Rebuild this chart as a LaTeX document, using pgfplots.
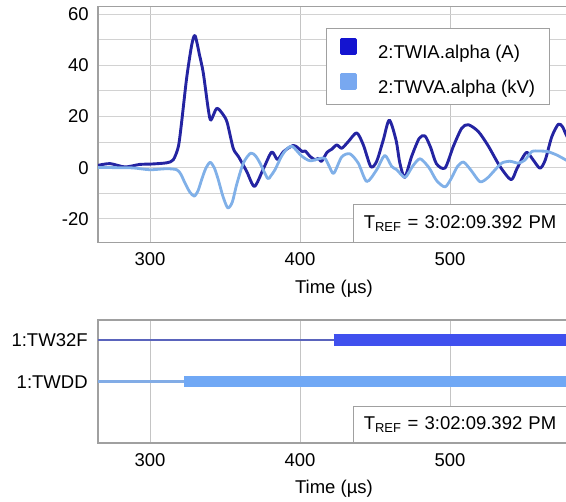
\documentclass[border=0pt]{standalone}
\usepackage{fontspec}
\setmainfont{Liberation Sans}
\usepackage{pgfplots}
\pgfplotsset{compat=1.18}
\definecolor{ia}{HTML}{2424A2}
\definecolor{iaLeg}{HTML}{1414D0}
\definecolor{va}{HTML}{80B0E8}
\definecolor{vaLeg}{HTML}{78A8F0}
\definecolor{tw32}{HTML}{4050EE}
\definecolor{tw32thin}{HTML}{5A64BC}
\definecolor{twdd}{HTML}{70A8F5}
\definecolor{twddthin}{HTML}{82ACE6}
\definecolor{axgray}{HTML}{A0A0A0}
\definecolor{gridgray}{HTML}{D2D2D2}
\definecolor{vgrid}{HTML}{C4C4C4}
\pgfplotsset{
  common/.style={
    scale only axis, width=472bp,
    xmin=265.3, xmax=580,
    axis line style={axgray, line width=1.2bp},
    tick style={draw=none},
    xtick={300,400,500},
    /pgf/number format/assume math mode=true,
    xmajorgrids,
    x grid style={vgrid, line width=1bp},
    y grid style={gridgray, line width=1bp},
    minor y grid style={gridgray, line width=1bp},
    xlabel={Time (µs)},
    xticklabel style={yshift=-4bp},
    yticklabel style={xshift=-3bp},
    xlabel style={yshift=-1bp},
  }
}
\begin{document}
\fontsize{18.5bp}{22bp}\selectfont
\begin{tikzpicture}
\begin{axis}[common,
  at={(98bp,259.3bp)}, anchor=south west, height=236bp,
  ymin=-29.3, ymax=62.9,
  ytick={-20,0,20,40,60},
  minor ytick={-10,10,30,50},
  ymajorgrids, yminorgrids,
  legend cell align=left,
  legend style={at={(rel axis cs:0.4824,0.9085)}, anchor=north west,
    draw=axgray, line width=1bp, fill=white,
    inner xsep=14bp, inner ysep=9bp, row sep=12bp,
    nodes={inner sep=0bp},
    /tikz/every odd column/.style={column sep=21bp}},
]
\addplot[ia, line width=2.9bp, smooth, tension=0.45, line join=round,
  legend image code/.code={\fill[iaLeg] (0bp,-0.5bp) rectangle (14bp,13.5bp);}]
  coordinates {
  (265.3,0.9) (273.3,1.6) (283.3,0.3) (293.3,1.3) (300,1.4) (311,1.9)
  (315.5,3.1) (318.9,8.3) (321.1,18) (324.4,35) (327.8,48) (330,51.6)
  (333,44) (335.5,37) (338.9,22.5) (340.6,18.6) (344.5,23.2) (348.9,20.6)
  (351.5,17.5) (355.5,7.5) (358.9,4.4) (364.4,-1.4) (369.6,-7.3) (375.5,-0.5)
  (381.1,6.1) (385,3.2) (389,6.3) (395.5,8.7) (398.9,7.6) (401.5,6.3)
  (403.5,6.5) (406.7,4.4) (410,3.1) (412.2,3.7) (414.4,2.5) (418,6)
  (421.1,7.2) (424.5,8.9) (427.8,7.6) (432.2,10.2) (437.8,13.6) (442.2,8.9)
  (447.2,0.4) (451.1,2.5) (455.5,10.8) (459.5,18.6) (464,10.8) (466.5,2)
  (469.8,-3.8) (474.4,4.4) (479.5,11.5) (483.3,12.4) (487,8) (491,1.5)
  (496.7,-0.1) (502.2,8.3) (507.8,15.4) (512.2,16.8) (518.9,14.1) (525.5,8.5)
  (533.3,0.5) (540.7,-4.7) (544.5,-0.5) (548,3.5) (551.3,6) (555.5,3)
  (560,-0.2) (563.5,3) (567.8,12) (572.2,17) (575,16) (577.3,13) (580,10)
  };
\addlegendentry{2:TWIA.alpha (A)}
\addplot[va, line width=2.8bp, smooth, tension=0.45, line join=round,
  legend image code/.code={\fill[vaLeg] (0bp,-0.5bp) rectangle (14bp,13.5bp);}]
  coordinates {
  (265.3,0.1) (280,0) (288.9,-0.1) (300,-0.8) (311,-0.4) (317.8,-0.8)
  (320.5,-2.5) (323.3,-6) (326.5,-9.5) (329.5,-11.1) (332,-9) (334.4,-4.7)
  (337,-0.5) (340,2.1) (342.8,0) (345.5,-4.7) (348.5,-11) (351.8,-15.7)
  (354.8,-13.5) (357.8,-6.5) (362.2,1.8) (367.1,5.7) (370.5,4.5) (373.3,1.8)
  (378.4,-4.2) (380.5,-3.2) (383.3,-0.8) (387.8,4.6) (391.5,7.5) (395,8.3)
  (401,4.6) (406.7,2.7) (413.3,3.6) (416.7,3.6) (419.5,0.5) (422.5,-2.2)
  (427.8,4.2) (433.3,5.4) (438.9,1.7) (444.5,-5.4) (451.1,-0.8) (456.5,4.8)
  (461.1,0.5) (464.5,-0.8) (470,-3.8) (475,0.5) (480,3.5) (486,0)
  (491,-5) (496.7,-7.5) (501,-4) (505,0.5) (509,2.2) (514,-1)
  (520,-5.5) (525,-4) (529,-1.5) (534.5,1.8) (540,2.5) (545.5,1.8)
  (550,3) (554.5,6.3) (560,6.5) (565,6.3) (571,5) (577.3,3) (580,2)
  };
\addlegendentry{2:TWVA.alpha (kV)}
\node[draw=axgray, line width=1bp, fill=white, anchor=south west,
  minimum height=37.5bp, text width=200bp, inner xsep=10.6bp, align=left]
  at (rel axis cs:0.5396,0) {T\textsubscript{REF} = 3:02:09.392 PM};
\end{axis}
\begin{axis}[common,
  at={(98bp,59bp)}, anchor=south west, height=123bp,
  ymin=0, ymax=123,
  ytick={61.3,103}, yticklabels={1:TWDD,1:TW32F},
  yticklabel style={xshift=-1bp},
]
\addplot[tw32thin, line width=2.7bp] coordinates {(260,103) (422.4,103)};
\addplot[tw32, line width=11.5bp] coordinates {(422.4,103) (590,103)};
\addplot[twddthin, line width=2.7bp] coordinates {(260,61.3) (322.9,61.3)};
\addplot[twdd, line width=11.5bp] coordinates {(322.9,61.3) (590,61.3)};
\node[draw=axgray, line width=1bp, fill=white, anchor=south west,
  minimum height=36.3bp, text width=200bp, inner xsep=10.6bp, align=left]
  at (rel axis cs:0.5396,0) {T\textsubscript{REF} = 3:02:09.392 PM};
\end{axis}
\pgfresetboundingbox
\useasboundingbox (0,0) rectangle (566bp,502bp);
\end{tikzpicture}
\end{document}
